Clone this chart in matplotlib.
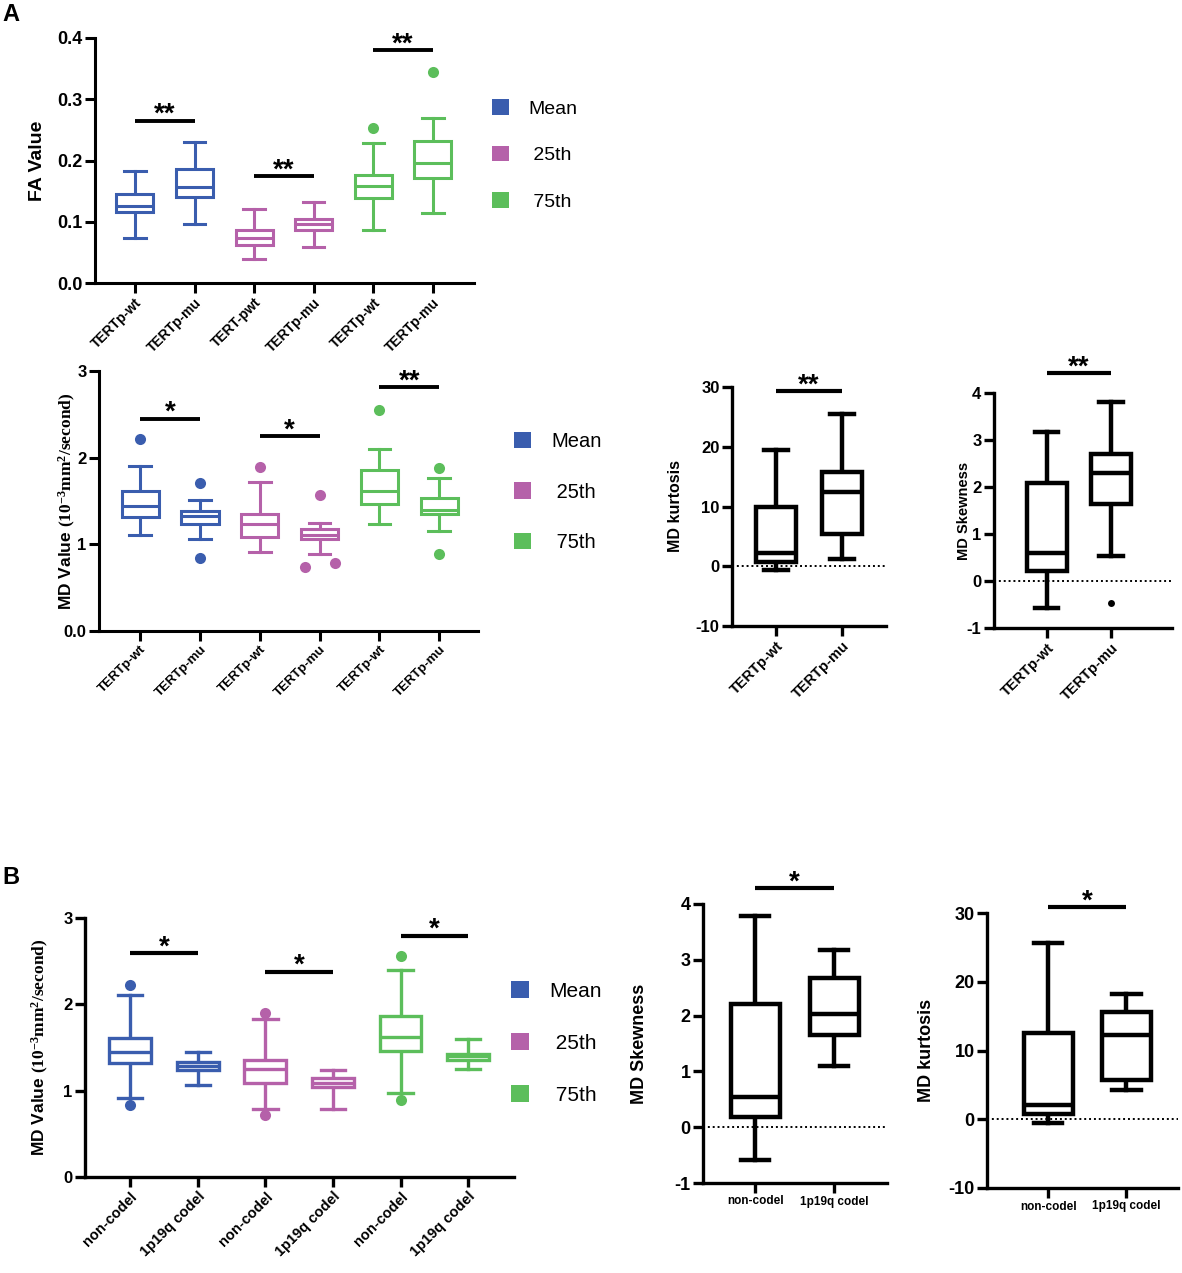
import matplotlib
matplotlib.use('Agg')
import matplotlib.pyplot as plt
from matplotlib.patches import Patch

plt.rcParams['font.family'] = ['Liberation Sans', 'DejaVu Sans']
plt.rcParams['font.weight'] = 'bold'
plt.rcParams['axes.labelweight'] = 'bold'
plt.rcParams['axes.unicode_minus'] = False
plt.rcParams['mathtext.fontset'] = 'custom'
plt.rcParams['mathtext.rm'] = 'Liberation Serif:bold'
plt.rcParams['mathtext.it'] = 'Liberation Serif:bold'
plt.rcParams['mathtext.bf'] = 'Liberation Serif:bold'

W, H = 1182, 1273
BLUE, PINK, GREEN = '#3A5DAE', '#B561A9', '#5CBE5B'
COLS6 = [BLUE, BLUE, PINK, PINK, GREEN, GREEN]
legend_labels = ['Mean', ' 25th', ' 75th']

# ---- A: FA value (mean / 25th / 75th) ----
fa_ticks = ['TERTp-wt', 'TERTp-mu', 'TERT-pwt', 'TERTp-mu', 'TERTp-wt', 'TERTp-mu']
fa_low = [0.074, 0.096, 0.040, 0.058, 0.087, 0.115]
fa_q1 = [0.116, 0.141, 0.062, 0.086, 0.139, 0.171]
fa_med = [0.125, 0.157, 0.074, 0.097, 0.158, 0.196]
fa_q3 = [0.145, 0.186, 0.086, 0.104, 0.177, 0.232]
fa_high = [0.183, 0.230, 0.121, 0.133, 0.228, 0.269]
fa_out = [[], [], [], [], [0.253], [0.344]]
fa_sig = [(1, 2, 0.265, '**'), (3, 4, 0.175, '**'), (5, 6, 0.380, '**')]

# ---- A: MD value ----
mda_ticks = ['TERTp-wt', 'TERTp-mu'] * 3
mda_low = [1.11, 1.06, 0.915, 0.89, 1.24, 1.15]
mda_q1 = [1.315, 1.24, 1.09, 1.06, 1.46, 1.346]
mda_med = [1.446, 1.33, 1.23, 1.11, 1.615, 1.40]
mda_q3 = [1.61, 1.385, 1.346, 1.18, 1.86, 1.535]
mda_high = [1.90, 1.515, 1.72, 1.25, 2.10, 1.76]
mda_out = [[2.21], [1.71, 0.846], [1.89], [1.57, 0.74, 0.79], [2.55], [1.885, 0.89]]
mda_sig = [(1, 2, 2.45, '*'), (3, 4, 2.245, '*'), (5, 6, 2.815, '**')]

# ---- A: MD kurtosis / skewness ----
ka_ticks = ['TERTp-wt', 'TERTp-mu']
ka_low = [-0.64, 1.25]
ka_q1 = [0.75, 5.4]
ka_med = [2.25, 12.45]
ka_q3 = [9.95, 15.7]
ka_high = [19.5, 25.5]
ka_out = [[], []]
ka_sig = [(1, 2, 29.3, '**')]

sa_low = [-0.58, 0.54]
sa_q1 = [0.216, 1.63]
sa_med = [0.60, 2.29]
sa_q3 = [2.08, 2.70]
sa_high = [3.16, 3.81]
sa_out = [[], [-0.46]]
sa_sig = [(1, 2, 4.43, '**')]

# ---- B: MD value, codeletion ----
mdb_ticks = ['non-codel', '1p19q codel'] * 3
mdb_low = [0.91, 1.07, 0.79, 0.786, 0.976, 1.254]
mdb_q1 = [1.32, 1.24, 1.09, 1.045, 1.46, 1.36]
mdb_med = [1.45, 1.285, 1.25, 1.09, 1.62, 1.40]
mdb_q3 = [1.61, 1.33, 1.355, 1.15, 1.866, 1.43]
mdb_high = [2.11, 1.444, 1.83, 1.24, 2.40, 1.595]
mdb_out = [[2.22, 0.83], [], [1.905, 0.716], [], [2.555, 0.89], []]
mdb_sig = [(1, 2, 2.59, '*'), (3, 4, 2.38, '*'), (5, 6, 2.795, '*')]

# ---- B: MD skewness / kurtosis ----
b2_ticks = ['non-codel', '1p19q codel']
sb_low = [-0.58, 1.09]
sb_q1 = [0.18, 1.65]
sb_med = [0.54, 2.02]
sb_q3 = [2.21, 2.67]
sb_high = [3.79, 3.18]
sb_out = [[], []]
sb_sig = [(1, 2, 4.28, '*')]

kb_low = [-0.55, 4.3]
kb_q1 = [0.72, 5.66]
kb_med = [2.12, 12.2]
kb_q3 = [12.6, 15.6]
kb_high = [25.6, 18.27]
kb_out = [[], []]
kb_sig = [(1, 2, 30.87, '*')]

fig = plt.figure(figsize=(W / 100, H / 100), dpi=100)


def make_ax(left, top, right, bottom):
    return fig.add_axes([left / W, 1 - bottom / H, (right - left) / W, (bottom - top) / H])


def style(ax, lw, ysize):
    for s in ('top', 'right'):
        ax.spines[s].set_visible(False)
    for s in ('left', 'bottom'):
        ax.spines[s].set_linewidth(lw)
    ax.tick_params(width=lw, length=7, labelsize=ysize, pad=2)


def boxes(ax, low, q1, med, q3, high, out, cols, lw, dot):
    stats = [dict(whislo=low[i], q1=q1[i], med=med[i], q3=q3[i], whishi=high[i], fliers=[])
             for i in range(len(med))]
    pos = list(range(1, len(med) + 1))
    art = ax.bxp(stats, positions=pos, widths=0.62, capwidths=0.36,
                 patch_artist=True, showfliers=False)
    yr = ax.get_ylim()[1] - ax.get_ylim()[0]
    for i, c in enumerate(cols):
        art['boxes'][i].set(facecolor='white', edgecolor=c, linewidth=lw, joinstyle='miter', zorder=3)
        art['medians'][i].set(color=c, linewidth=lw, zorder=4)
        for k in (2 * i, 2 * i + 1):
            art['whiskers'][k].set(color=c, linewidth=lw, zorder=2)
            art['caps'][k].set(color=c, linewidth=lw, zorder=2)
        pts = sorted(out[i])
        xs = [pos[i]] * len(pts)
        # spread outliers that would sit on top of each other
        for j in range(1, len(pts)):
            if pts[j] - pts[j - 1] < 0.04 * yr:
                xs[j - 1] = pos[i] - 0.25
                xs[j] = pos[i] + 0.25
        ax.plot(xs, pts, 'o', color=c, markersize=dot, markeredgewidth=0, zorder=5, clip_on=False)


def sig(ax, marks, lw, fs):
    for x1, x2, y, txt in marks:
        ax.plot([x1, x2], [y, y], color='k', lw=lw, solid_capstyle='butt', clip_on=False)
        ax.annotate(txt, xy=((x1 + x2) / 2, y), xytext=(0, -1), textcoords='offset points',
                    ha='center', va='baseline', fontsize=fs, fontweight='bold', annotation_clip=False)


def legend(left, mid, fs, spacing):
    handles = [Patch(facecolor=c, edgecolor='none') for c in (BLUE, PINK, GREEN)]
    fig.legend(handles, legend_labels, loc='center left', bbox_to_anchor=(left / W, 1 - mid / H),
               frameon=False, prop={'weight': 'normal', 'size': fs},
               handlelength=0.85, handleheight=0.85, handletextpad=1.0,
               labelspacing=spacing, borderpad=0, borderaxespad=0)


def xlabels(ax, labels, fs, rot=45):
    ax.set_xticks(range(1, len(labels) + 1))
    if rot:
        ax.set_xticklabels(labels, rotation=rot, ha='right', rotation_mode='anchor', fontsize=fs)
    else:
        ax.set_xticklabels(labels, fontsize=fs)


# FA panel
ax = make_ax(95, 38, 474, 283)
ax.set_xlim(0.33, 6.69)
ax.set_ylim(0, 0.4)
style(ax, 2.2, 13)
ax.set_yticks([0, 0.1, 0.2, 0.3, 0.4])
ax.set_yticklabels(['0.0', '0.1', '0.2', '0.3', '0.4'])
boxes(ax, fa_low, fa_q1, fa_med, fa_q3, fa_high, fa_out, COLS6, 2.2, 8)
xlabels(ax, fa_ticks, 10)
sig(ax, fa_sig, 2.8, 20)
ax.set_ylabel('FA Value', fontsize=14)
ax.yaxis.set_label_coords(-0.13, 0.5)
legend(492, 155, 14, 1.45)

# MD panel (A)
ax = make_ax(99, 371, 478, 631)
ax.set_xlim(0.31, 6.65)
ax.set_ylim(0, 3)
style(ax, 2.2, 12)
ax.set_yticks([0, 1, 2, 3])
ax.set_yticklabels(['0.0', '1', '2', '3'])
boxes(ax, mda_low, mda_q1, mda_med, mda_q3, mda_high, mda_out, COLS6, 2.2, 8)
xlabels(ax, mda_ticks, 9.5)
sig(ax, mda_sig, 2.8, 20)
ax.set_ylabel(r'MD Value $\mathrm{(10^{-3}mm^{2}/second)}$', fontsize=12.5)
ax.yaxis.set_label_coords(-0.055, 0.5)
legend(514, 492, 14.5, 1.55)

# MD kurtosis (A)
ax = make_ax(732, 387, 886, 626)
ax.set_xlim(0.33, 2.67)
ax.set_ylim(-10, 30)
style(ax, 2.4, 12)
ax.set_yticks([-10, 0, 10, 20, 30])
ax.axhline(0, color='k', ls=(0, (1, 1.5)), lw=1.4, zorder=1)
boxes(ax, ka_low, ka_q1, ka_med, ka_q3, ka_high, ka_out, ['k', 'k'], 3.2, 5)
xlabels(ax, ka_ticks, 10.5)
sig(ax, ka_sig, 3.0, 20)
ax.set_ylabel('MD kurtosis', fontsize=11.5)
ax.yaxis.set_label_coords(-0.32, 0.5)

# MD skewness (A)
ax = make_ax(994, 393, 1172, 628)
ax.set_xlim(0.18, 2.95)
ax.set_ylim(-1, 4)
style(ax, 2.4, 12)
ax.set_yticks([-1, 0, 1, 2, 3, 4])
ax.axhline(0, color='k', ls=(0, (1, 1.5)), lw=1.4, zorder=1)
boxes(ax, sa_low, sa_q1, sa_med, sa_q3, sa_high, sa_out, ['k', 'k'], 3.2, 5)
xlabels(ax, ka_ticks, 10.5)
sig(ax, sa_sig, 3.0, 20)
ax.set_ylabel('MD Skewness', fontsize=10.5)
ax.yaxis.set_label_coords(-0.13, 0.5)

# MD panel (B)
ax = make_ax(85, 918, 514, 1177)
ax.set_xlim(0.33, 6.68)
ax.set_ylim(0, 3)
style(ax, 2.4, 12)
ax.set_yticks([0, 1, 2, 3])
boxes(ax, mdb_low, mdb_q1, mdb_med, mdb_q3, mdb_high, mdb_out, COLS6, 2.4, 8)
xlabels(ax, mdb_ticks, 10.5)
sig(ax, mdb_sig, 3.0, 20)
ax.set_ylabel(r'MD Value $\mathrm{(10^{-3}mm^{2}/second)}$', fontsize=12.5)
ax.yaxis.set_label_coords(-0.08, 0.5)
legend(511, 1043, 15, 1.55)

# MD skewness (B)
ax = make_ax(703, 904, 887, 1183)
ax.set_xlim(0.34, 2.67)
ax.set_ylim(-1, 4)
style(ax, 2.4, 13)
ax.set_yticks([-1, 0, 1, 2, 3, 4])
ax.axhline(0, color='k', ls=(0, (1, 1.5)), lw=1.4, zorder=1)
boxes(ax, sb_low, sb_q1, sb_med, sb_q3, sb_high, sb_out, ['k', 'k'], 3.2, 5)
xlabels(ax, b2_ticks, 8.5, rot=0)
sig(ax, sb_sig, 3.0, 20)
ax.set_ylabel('MD Skewness', fontsize=13)
ax.yaxis.set_label_coords(-0.30, 0.5)

# MD kurtosis (B)
ax = make_ax(987, 913, 1178, 1188)
ax.set_xlim(0.215, 2.66)
ax.set_ylim(-10, 30)
style(ax, 2.4, 13)
ax.set_yticks([-10, 0, 10, 20, 30])
ax.axhline(0, color='k', ls=(0, (1, 1.5)), lw=1.4, zorder=1)
boxes(ax, kb_low, kb_q1, kb_med, kb_q3, kb_high, kb_out, ['k', 'k'], 3.2, 5)
xlabels(ax, b2_ticks, 8.5, rot=0)
sig(ax, kb_sig, 3.0, 20)
ax.set_ylabel('MD kurtosis', fontsize=13)
ax.yaxis.set_label_coords(-0.27, 0.5)

fig.text(2 / W, 1 - 3 / H, 'A', fontsize=17, fontweight='bold', va='top', ha='left')
fig.text(2 / W, 1 - 866 / H, 'B', fontsize=17, fontweight='bold', va='top', ha='left')

fig.savefig('out.png', dpi=100)
